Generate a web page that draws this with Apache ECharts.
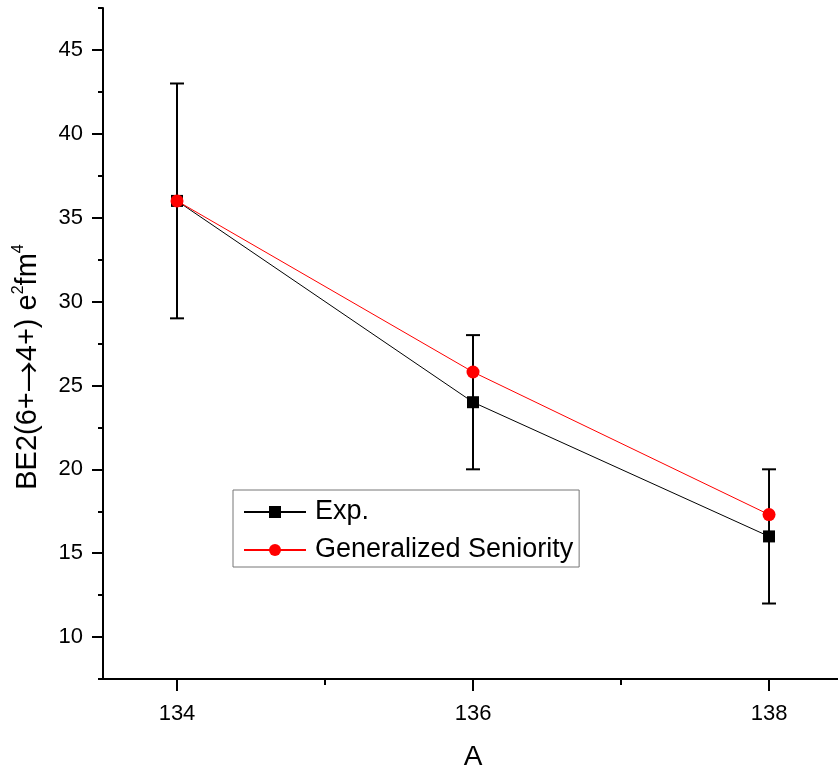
<!DOCTYPE html>
<html>
<head>
<meta charset="utf-8">
<script src="https://cdn.jsdelivr.net/npm/echarts@6/dist/echarts.min.js"></script>
<style>
  html, body { margin: 0; padding: 0; background: #fff; }
  #chart { width: 838px; height: 772px; }
</style>
</head>
<body>
<div id="chart"></div>
<script>
// Mass numbers and B(E2; 6+ -> 4+) values in e^2 fm^4
const massNumbers = [134, 136, 138];
const expValues = [36, 24, 16];
const expErrors = [7, 4, 4];
const seniorityValues = [36, 25.8, 17.3];

// Axis tick positions
const xMajorTicks = [134, 136, 138];
const xMinorTicks = [135, 137];
const yMajorTicks = [10, 15, 20, 25, 30, 35, 40, 45];
const yMinorTicks = [7.5, 12.5, 17.5, 22.5, 27.5, 32.5, 37.5, 42.5, 47.5];

const FONT = '"Liberation Sans", Arial, sans-serif';
const ARROW_FONT = '"Noto Sans CJK SC", "DejaVu Sans", sans-serif';

const expData = massNumbers.map((a, i) => [a, expValues[i]]);
const seniorityData = massNumbers.map((a, i) => [a, seniorityValues[i]]);
const errorData = massNumbers.map((a, i) => [a, expValues[i] - expErrors[i], expValues[i] + expErrors[i]]);

const chart = echarts.init(document.getElementById('chart'), null, { renderer: 'canvas' });

const axisLineStyle = { color: '#000', width: 2 };
const X_MIN = 133.5, X_MAX = 138.466;

chart.setOption({
  animation: false,
  backgroundColor: '#fff',
  grid: { left: 103, top: 8, right: 0, bottom: 93, containLabel: false },
  xAxis: [
    {
      type: 'value', min: X_MIN, max: X_MAX, position: 'bottom',
      axisLine: { show: true, lineStyle: axisLineStyle },
      axisTick: { show: true, customValues: xMajorTicks, length: 12, inside: false, lineStyle: axisLineStyle },
      axisLabel: { customValues: xMajorTicks, fontSize: 22, color: '#000', fontFamily: FONT, margin: 24 },
      splitLine: { show: false }
    },
    {
      type: 'value', min: X_MIN, max: X_MAX, position: 'bottom',
      axisLine: { show: false },
      axisTick: { show: true, customValues: xMinorTicks, length: 6, inside: false, lineStyle: axisLineStyle },
      axisLabel: { show: false },
      splitLine: { show: false }
    }
  ],
  yAxis: [
    {
      type: 'value', min: 7.5, max: 47.5, position: 'left',
      axisLine: { show: true, lineStyle: axisLineStyle },
      axisTick: { show: true, customValues: yMajorTicks, length: 11, inside: false, lineStyle: axisLineStyle },
      axisLabel: { customValues: yMajorTicks, fontSize: 22, color: '#000', fontFamily: FONT, margin: 20 },
      splitLine: { show: false }
    },
    {
      type: 'value', min: 7.5, max: 47.5, position: 'left',
      axisLine: { show: false },
      axisTick: { show: true, customValues: yMinorTicks, length: 5, inside: false, lineStyle: axisLineStyle },
      axisLabel: { show: false },
      splitLine: { show: false }
    }
  ],
  legend: {
    data: ['Exp.', 'Generalized Seniority'],
    orient: 'vertical',
    left: 233, top: 490,
    padding: [7, 6, 2, 10],
    itemWidth: 62, itemHeight: 15, itemGap: 8,
    borderColor: '#777', borderWidth: 1,
    textStyle: { fontSize: 27, color: '#000', fontFamily: FONT, lineHeight: 30, padding: [0, 0, 0, 4] }
  },
  graphic: [
    {
      // vertical axis title
      type: 'text',
      x: 28, y: 367,
      rotation: Math.PI / 2,
      style: {
        text: '{m|BE2(6+}{a|\u2192}{m|4+) e}{s|2}{m|fm}{s|4}',
        align: 'center', verticalAlign: 'middle',
        fill: '#000',
        rich: {
          m: { fontSize: 29, fontFamily: FONT, lineHeight: 34, fill: '#000' },
          a: { fontSize: 31, fontFamily: ARROW_FONT, lineHeight: 34, fill: '#000' },
          s: { fontSize: 16, fontFamily: FONT, lineHeight: 18, verticalAlign: 'top', fill: '#000' }
        }
      }
    },
    {
      // horizontal axis title
      type: 'text',
      x: 473, y: 757,
      style: {
        text: 'A',
        align: 'center', verticalAlign: 'middle',
        fontSize: 28, fontFamily: FONT, fill: '#000'
      }
    }
  ],
  series: [
    {
      type: 'custom',
      name: 'errors',
      xAxisIndex: 0, yAxisIndex: 0,
      z: 1,
      data: errorData,
      encode: { x: 0, y: [1, 2] },
      renderItem: function (params, api) {
        const x = api.value(0);
        const top = api.coord([x, api.value(2)]);
        const bot = api.coord([x, api.value(1)]);
        const hw = 7;
        const st = { stroke: '#000', lineWidth: 2 };
        return {
          type: 'group',
          children: [
            { type: 'line', shape: { x1: top[0], y1: top[1], x2: bot[0], y2: bot[1] }, style: st },
            { type: 'line', shape: { x1: top[0] - hw, y1: top[1], x2: top[0] + hw, y2: top[1] }, style: st },
            { type: 'line', shape: { x1: bot[0] - hw, y1: bot[1], x2: bot[0] + hw, y2: bot[1] }, style: st }
          ]
        };
      }
    },
    {
      type: 'line',
      name: 'Exp.',
      xAxisIndex: 0, yAxisIndex: 0,
      z: 2,
      data: expData,
      symbol: 'rect', symbolSize: 12,
      itemStyle: { color: '#000' },
      lineStyle: { color: '#000', width: 1 }
    },
    {
      type: 'line',
      name: 'Generalized Seniority',
      xAxisIndex: 0, yAxisIndex: 0,
      z: 3,
      data: seniorityData,
      symbol: 'circle', symbolSize: 13,
      itemStyle: { color: '#ff0000' },
      lineStyle: { color: '#ff0000', width: 1 }
    }
  ]
});
</script>
</body>
</html>
